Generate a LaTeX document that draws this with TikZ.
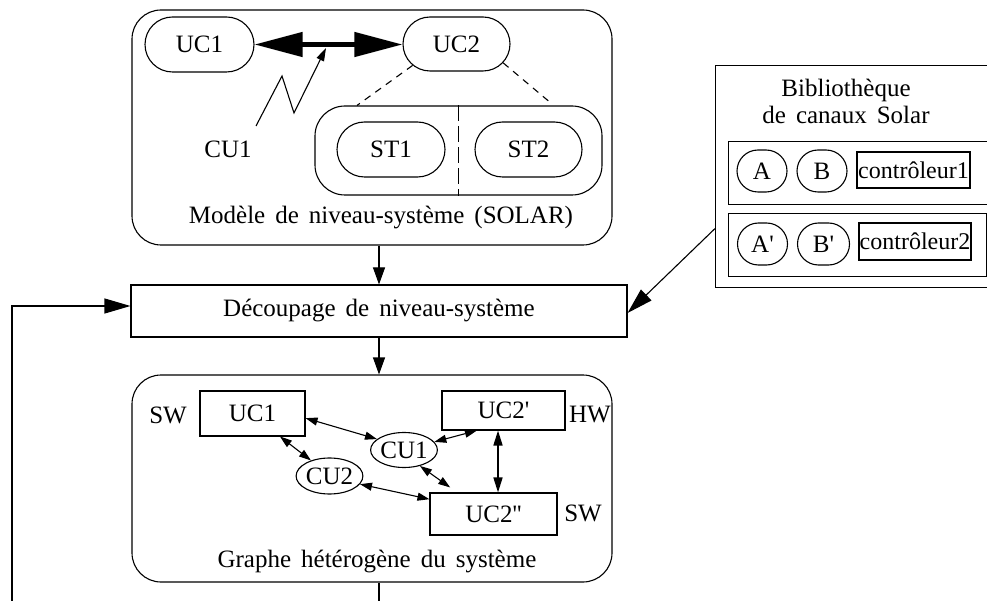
\documentclass[tikz,border=0pt]{standalone}
\usepackage{fontspec}
\setmainfont{Liberation Serif}
\usetikzlibrary{arrows.meta,shapes.geometric,shapes.misc,calc}
\newcommand{\fnt}{\fontsize{25}{27}\selectfont\spaceskip=0.40em plus 0.1em\relax}
\newcommand{\sq}{\textquotesingle}
\begin{document}
\begin{tikzpicture}[x=1pt,y=-1pt,line width=1.1pt,
  txt/.style={font=\fnt, inner sep=0pt},
  pill/.style={rounded rectangle, draw, inner sep=0pt, font=\fnt},
  bigbox/.style={draw, rounded corners=29pt, inner sep=0pt},
  rbox/.style={draw, inner sep=0pt, font=\fnt},
  ell/.style={ellipse, draw, inner sep=0pt, font=\fnt},
  fat/.style={-{Triangle[length=17pt,width=12pt]}},
  bigfat/.style={-{Triangle[length=26pt,width=15pt]}},
  dbl/.style={{Triangle[length=12pt,width=8pt]}-{Triangle[length=12pt,width=8pt]}},
  dbltwo/.style={line width=1.6pt,{Triangle[length=15pt,width=9pt]}-{Triangle[length=15pt,width=9pt]}},
  ddash/.style={dash pattern=on 7pt off 6pt},
  ldash/.style={dash pattern=on 16pt off 5pt}]
\path[use as bounding box, clip] (0,0) rectangle (987,601);

% ---------- top box ----------
\node[bigbox, minimum width=480pt, minimum height=235pt] (top) at (372,127.5) {};
\node[pill, minimum width=109pt, minimum height=55pt] (uc1) at (199.5,44.5) {UC1};
\node[pill, minimum width=107pt, minimum height=54pt] (uc2) at (456.5,44) {UC2};
\draw[line width=4.5pt, {Triangle[length=48pt,width=24pt]}-{Triangle[length=48pt,width=24pt]}] (uc1.east) -- (uc2.west |- uc1.east);
\node[txt] (cu1lbl) at (228,149) {CU1};
\coordinate (z0) at (256,126);
\coordinate (z1) at (282,76);
\coordinate (z2) at (294,113);
\coordinate (ztip) at (326,48);
\draw[-{Triangle[length=13pt,width=8pt]}] (z0) -- (z1) -- (z2) -- (ztip);
\node[draw, rounded corners=30pt, inner sep=0pt, minimum width=287pt, minimum height=89pt] (cont) at (458.5,150.5) {};
\node[pill, minimum width=108pt, minimum height=55pt] (st1) at (391,149.5) {ST1};
\node[pill, minimum width=107pt, minimum height=55pt] (st2) at (528.5,149.5) {ST2};
\draw[ldash] (cont.north) -- (cont.south);
\draw[ddash] (uc2.206) -- ([xshift=-101.5pt]cont.north);
\draw[ddash] (uc2.-22) -- ([xshift=90.5pt,yshift=4pt]cont.north);
\node[txt] (cap1) at (381,218) {Modèle de niveau-système (SOLAR)};

% ---------- partitioning ----------
\node[rbox, minimum width=496pt, minimum height=52pt] (dec) at (379,311) {Découpage de niveau-système};
\draw[fat] (top.south -| dec.north) -- (dec.north);

% ---------- library ----------
\node[draw, inner sep=0pt, minimum width=285pt, minimum height=222pt, anchor=north west] (lib) at (715,65) {};
\node[txt, align=center] (libt) at (846,101.5) {Bibliothèque\\de canaux Solar};
\node[draw, inner sep=0pt, minimum width=280pt, minimum height=63pt, anchor=north west] (row1) at (728,141) {};
\node[draw, inner sep=0pt, minimum width=258pt, minimum height=63pt, anchor=north west] (row2) at (728,213) {};
\node[pill, minimum width=50pt, minimum height=42pt] (a) at (762,171) {A};
\node[pill, minimum width=50pt, minimum height=42pt] (b) at (822,171) {B};
\node[rbox, minimum width=113pt, minimum height=36pt, font=\fontsize{24}{26}\selectfont] (c1) at (913.5,170) {contrôleur1};
\node[pill, minimum width=50pt, minimum height=42pt] (ap) at (762.5,244) {A\sq};
\node[pill, minimum width=52pt, minimum height=42pt] (bp) at (823.5,244) {B\sq};
\node[rbox, minimum width=112pt, minimum height=37pt, font=\fontsize{24}{26}\selectfont] (c2) at (915,241.5) {contrôleur2};
\draw[bigfat] ([yshift=-52pt]lib.west) -- ([yshift=-2pt]dec.east);

% ---------- feedback ----------
\coordinate (fb0) at (12,606);
\draw[bigfat] (fb0) |- ([yshift=5pt]dec.west);

% ---------- bottom box ----------
\node[bigbox, minimum width=480pt, minimum height=207pt] (bot) at (372,478.5) {};
\draw[fat] (dec.south) -- (bot.north -| dec.south);
\coordinate (endb) at (379,606);
\draw (bot.south -| endb) -- (endb);

\node[txt] (sw1) at (168,415) {SW};
\node[rbox, minimum width=105pt, minimum height=45pt] (guc1) at (252.5,413.5) {UC1};
\node[rbox, minimum width=123pt, minimum height=39pt] (guc2p) at (503.5,410.5) {UC2\sq};
\node[txt] (hw) at (590,415) {HW};
\node[ell, minimum width=62pt, minimum height=35pt] (gcu1) at (404,450) {CU1};
\node[ell, minimum width=57pt, minimum height=36pt] (gcu2) at (329.5,476) {CU2};
\node[rbox, minimum width=127pt, minimum height=42pt] (guc2pp) at (493.5,514) {UC2\sq\sq};
\node[txt] (sw2) at (583,513) {SW};
\node[txt] (cap2) at (377,562) {Graphe hétérogène du système};

\draw[dbl] (guc1.-5) -- (gcu1.158);
\draw[dbl] (guc1.-40) -- (gcu2.140);
\draw[dbl] (gcu1.15) -- (guc2p.-143);
\draw[dbl] (gcu1.-45) -- ([xshift=-6pt,yshift=5pt]guc2pp.150);
\draw[dbltwo] ([xshift=-5.5pt]guc2p.south) -- ([xshift=-5.5pt]guc2p.south |- guc2pp.north);
\draw[dbl] (gcu2.-15) -- (guc2pp.167);
\end{tikzpicture}
\end{document}
